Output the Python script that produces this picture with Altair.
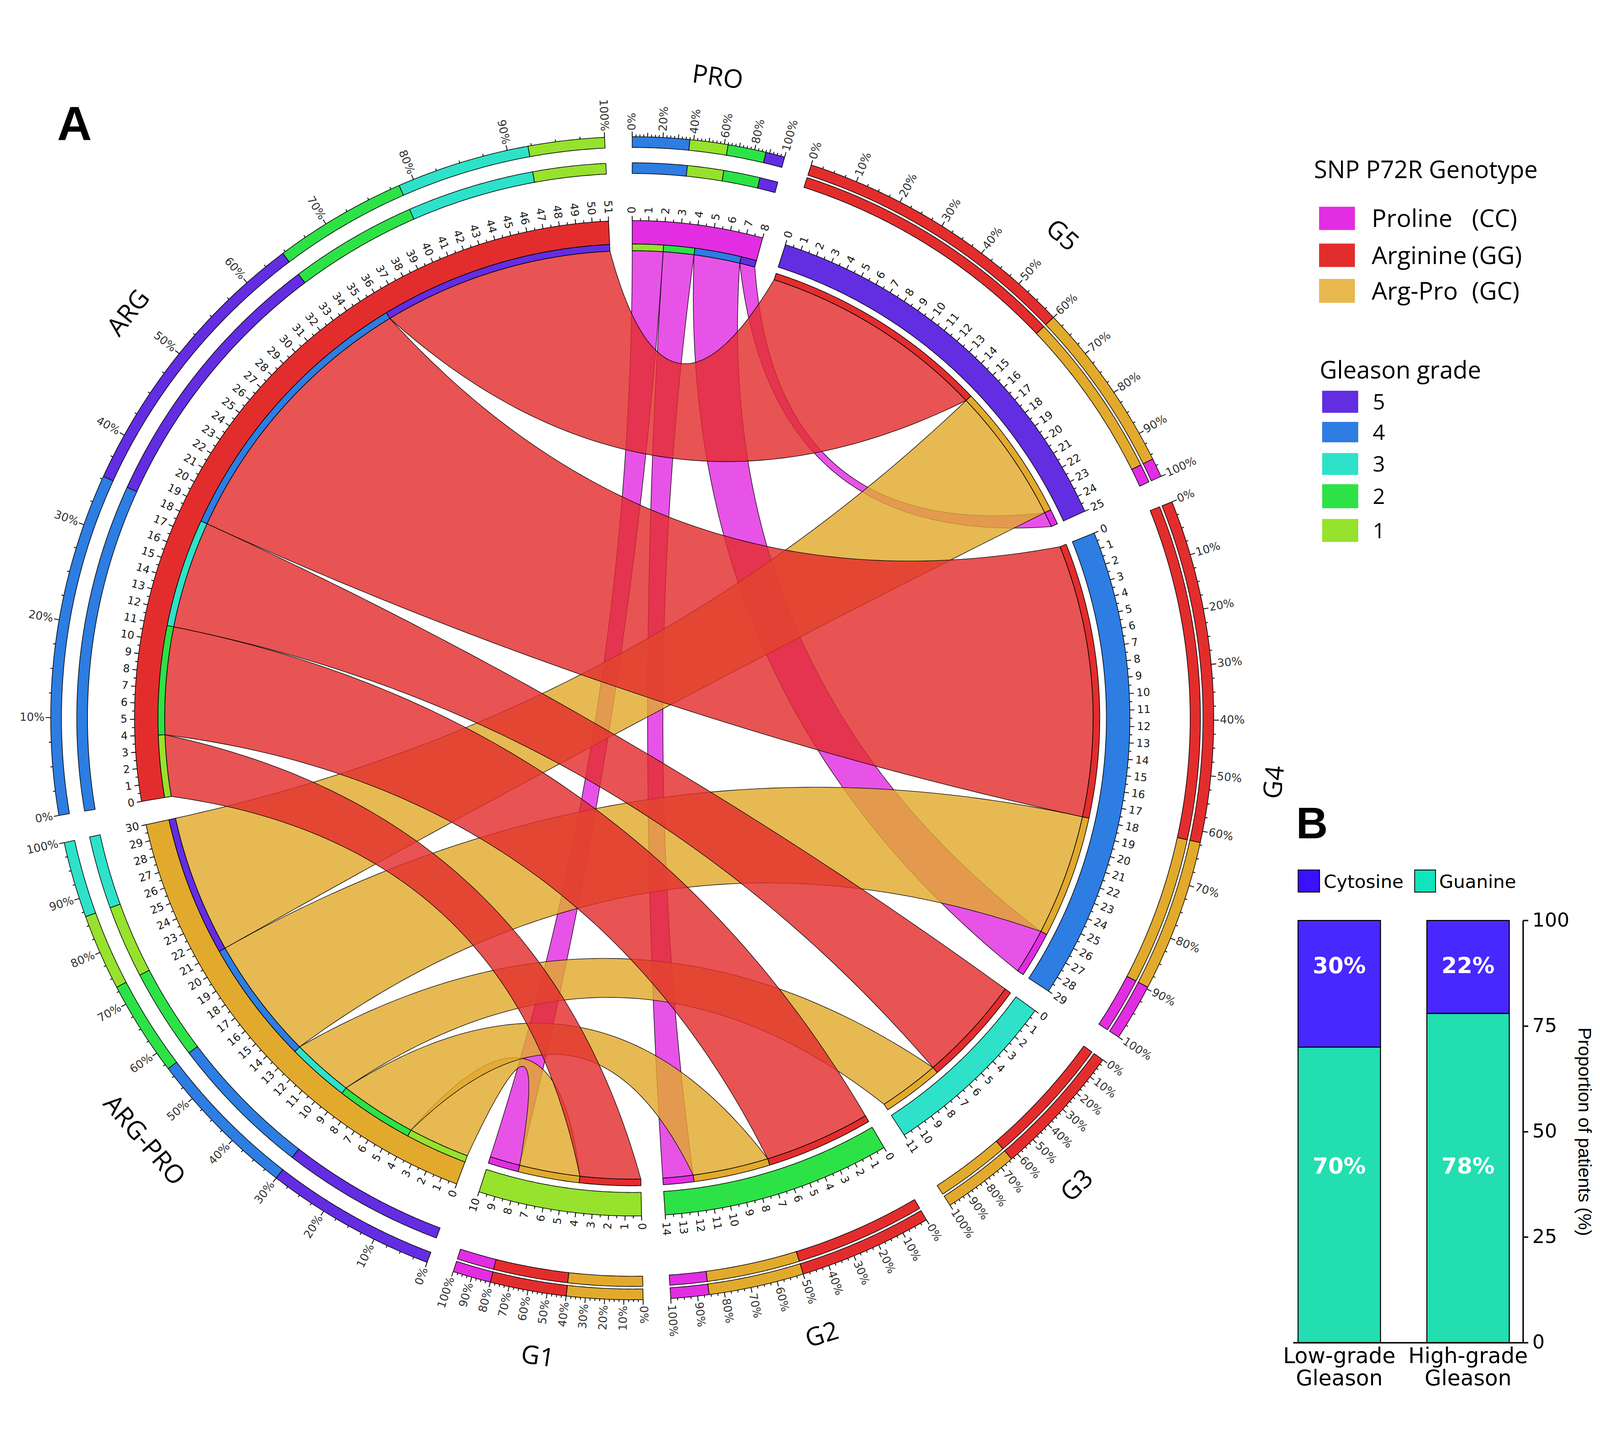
import math
import altair as alt
import pandas as pd

alt.data_transformers.disable_max_rows()

S = 4429 / 1568.0          # page pixels per reference-display pixel
OFF = 8.0 / S              # page margin expressed in display pixels

# ---------------- values ----------------
segment_order = ["PRO", "G5", "G4", "G3", "G2", "G1", "ARG-PRO", "ARG"]   # clockwise from top
genotypes = ["ARG", "ARG-PRO", "PRO"]
grades = ["G1", "G2", "G3", "G4", "G5"]
counts_arg = [4, 7, 7, 18, 15]      # Arginine patients in G1..G5
counts_argpro = [4, 5, 4, 8, 9]     # Arg-Pro patients in G1..G5
counts_pro = [2, 2, 0, 3, 1]        # Proline patients in G1..G5

segment_colors = ["#e22de2", "#632de2", "#2d7de2", "#2de2c8",
                  "#2de246", "#96e22d", "#e2aa2d", "#e32d2d"]

ring_order = {
    "PRO": ["G4", "G1", "G2", "G5"],
    "G5": ["ARG", "ARG-PRO", "PRO"],
    "G4": ["ARG", "ARG-PRO", "PRO"],
    "G3": ["ARG", "ARG-PRO"],
    "G2": ["ARG", "ARG-PRO", "PRO"],
    "G1": ["ARG-PRO", "ARG", "PRO"],
    "ARG-PRO": ["G5", "G4", "G2", "G1", "G3"],
    "ARG": ["G4", "G5", "G2", "G3", "G1"],
}

legend_genotype_names = ["Proline", "Arginine", "Arg-Pro"]
legend_genotype_codes = ["(CC)", "(GG)", "(GC)"]
legend_genotype_colors = ["#e22de2", "#e32d2d", "#e8b84f"]
legend_grade_names = ["5", "4", "3", "2", "1"]
legend_grade_colors = ["#632de2", "#2d7de2", "#2de2c8", "#2de246", "#96e22d"]

bar_groups = ["Low-grade Gleason", "High-grade Gleason"]
cytosine_pct = [30, 22]
guanine_pct = [70, 78]

# ---------------- layout constants (display px) ----------------
W_PAGE, H_PAGE = 4405.0, 3692.0
XMAX = OFF + W_PAGE / S
YMAX = OFF + H_PAGE / S


def px(v):
    return (v - OFF) * S


CX, CY = 618.4, 650.5
U = 1.9                 # degrees per patient
TH0 = 0.0
R_OUT, R_IN = 487.0, 464.0
R_LG, R_LK = 457.5, 451.0          # link radius genotype / grade
BEZ_OFF = 193.0
PR_OUT = (558.5, 569.0)
PR_IN_GENO = (533.0, 543.5)
PR_IN_GRADE = (546.0, 556.0)

cnt = {}
for g, arr in zip(genotypes, [counts_arg, counts_argpro, counts_pro]):
    for k, v in zip(grades, arr):
        cnt[(g, k)] = v
size = {g: sum(cnt[(g, k)] for k in grades) for g in genotypes}
size.update({k: sum(cnt[(g, k)] for g in genotypes) for k in grades})
total = sum(size[s] for s in segment_order)
GAP = (360.0 - total * U) / len(segment_order)
start = {}
a = TH0
for s in segment_order:
    start[s] = a
    a += size[s] * U + GAP
color = dict(zip(segment_order, segment_colors))


def ang(s, pos):
    return start[s] + pos * U


def pc(s, p):
    return cnt[(s, p)] if s in genotypes else cnt[(p, s)]


partner_order = {g: grades for g in genotypes}
partner_order.update({k: genotypes for k in grades})
offset = {}
for s in segment_order:
    c = 0
    for p in partner_order[s]:
        v = pc(s, p)
        offset[(s, p)] = (c, c + v)
        c += v


def P(theta, r):
    t = math.radians(theta)
    return (CX + r * math.sin(t), CY - r * math.cos(t))


def arc_pts(t0, t1, r, step=0.25):
    n = max(2, int(abs(t1 - t0) / step) + 1)
    return [P(t0 + (t1 - t0) * i / (n - 1), r) for i in range(n)]


def ring_poly(t0, t1, r_in, r_out):
    pts = arc_pts(t0, t1, r_out) + arc_pts(t1, t0, r_in)
    pts.append(pts[0])
    return pts


def bez(p0, p2, n=80):
    mx, my = (p0[0] + p2[0]) / 2, (p0[1] + p2[1]) / 2
    vx, vy = mx - CX, my - CY
    d = math.hypot(vx, vy)
    R = max(0.0, d - BEZ_OFF)
    if d > 1e-9:
        qx, qy = CX + vx / d * R, CY + vy / d * R
    else:
        qx, qy = CX, CY
    out = []
    for i in range(1, n):
        t = i / n
        out.append(((1 - t) ** 2 * p0[0] + 2 * (1 - t) * t * qx + t * t * p2[0],
                    (1 - t) ** 2 * p0[1] + 2 * (1 - t) * t * qy + t * t * p2[1]))
    return out


rows = {"chord_PRO": [], "chord_ARG-PRO": [], "chord_ARG": [], "ring": []}
pid = [0]


def add_poly(group, pts, fill):
    pid[0] += 1
    for i, (x, y) in enumerate(pts):
        rows[group].append({"pid": "p%d" % pid[0], "ord": i, "x": x, "y": y, "fill": fill})


for g in ["PRO", "ARG-PRO", "ARG"]:
    for k in grades:
        if cnt[(g, k)] == 0:
            continue
        a0, a1 = offset[(g, k)]
        b0, b1 = offset[(k, g)]
        A0, A1, B0, B1 = ang(g, a0), ang(g, a1), ang(k, b0), ang(k, b1)
        pts = arc_pts(A0, A1, R_LG) + bez(P(A1, R_LG), P(B0, R_LK)) \
            + arc_pts(B0, B1, R_LK) + bez(P(B1, R_LK), P(A0, R_LG))
        pts.append(pts[0])
        add_poly("chord_" + g, pts, color[g])

for s in segment_order:
    n = size[s]
    add_poly("ring", ring_poly(ang(s, 0), ang(s, n), R_IN, R_OUT), color[s])
    thin = (R_LG, R_IN) if s in genotypes else (R_LK, R_LG)
    for p in partner_order[s]:
        b0, b1 = offset[(s, p)]
        if b1 > b0:
            add_poly("ring", ring_poly(ang(s, b0), ang(s, b1), thin[0], thin[1]), color[p])
    inner = PR_IN_GENO if s in genotypes else PR_IN_GRADE
    c = 0
    for p in ring_order[s]:
        v = pc(s, p)
        for rr in (PR_OUT, inner):
            add_poly("ring", ring_poly(ang(s, c), ang(s, c + v), rr[0], rr[1]), color[p])
        c += v

tick_rows = []
lab_r, lab_l = [], []


def add_label(theta, r, text, fs, col):
    x, y = P(theta, r)
    th = theta % 360
    if th < 180:
        lab_r.append({"x": x, "y": y, "t": text, "ang": (th - 90) % 360, "fs": fs, "c": col})
    else:
        lab_l.append({"x": x, "y": y, "t": text, "ang": (th - 270) % 360, "fs": fs, "c": col})


for s in segment_order:
    n = size[s]
    for i in range(2 * n + 1):
        th = ang(s, i / 2)
        L = 4.5 if i % 2 == 0 else 2.5
        x1, y1 = P(th, R_OUT)
        x2, y2 = P(th, R_OUT + L)
        tick_rows.append({"x": x1, "y": y1, "x2": x2, "y2": y2})
        if i % 2 == 0:
            add_label(th, R_OUT + 7.0, str(i // 2), 10.5 * S, "#1a1a1a")
    lab_step = 8 if s == "PRO" else 4
    for j in range(41):
        th = ang(s, n * j / 40)
        if j % lab_step == 0:
            L = 5.0
        elif j % 4 == 0:
            L = 4.0
        else:
            L = 2.3
        x1, y1 = P(th, PR_OUT[1])
        x2, y2 = P(th, PR_OUT[1] + L)
        tick_rows.append({"x": x1, "y": y1, "x2": x2, "y2": y2})
        if j % lab_step == 0:
            add_label(th, PR_OUT[1] + 6.0, "%d%%" % (j * 10 // 4), 11.0 * S, "#333333")

name_rows = []
for s in segment_order:
    th = ang(s, size[s] / 2) % 360
    x, y = P(th, 632.0)
    rot = (th - 180) if 90 < th < 270 else th
    name_rows.append({"x": x, "y": y, "t": s, "ang": rot % 360})

# ---------------- panel A (chord diagram) + legends, in page coordinates ----------------
xs = alt.Scale(domain=[OFF, XMAX], nice=False, zero=False)
ys = alt.Scale(domain=[OFF, YMAX], nice=False, zero=False, reverse=True)
X = alt.X("x:Q", scale=xs, axis=None)
Y = alt.Y("y:Q", scale=ys, axis=None)


def poly_layer(group, opacity, sw):
    return alt.Chart(pd.DataFrame(rows[group])).mark_line(
        filled=True, stroke="black", strokeWidth=sw, strokeJoin="round",
        fillOpacity=opacity, strokeOpacity=0.9
    ).encode(x=X, y=Y, detail="pid:N", order="ord:Q",
             color=alt.Color("fill:N", scale=None))


layers = [poly_layer("chord_PRO", 0.82, 0.6 * S),
          poly_layer("chord_ARG-PRO", 0.82, 0.6 * S),
          poly_layer("chord_ARG", 0.82, 0.6 * S),
          poly_layer("ring", 1.0, 0.7 * S)]

layers.append(alt.Chart(pd.DataFrame(tick_rows)).mark_rule(
    color="black", strokeWidth=0.8 * S).encode(x=X, y=Y, x2="x2:Q", y2="y2:Q"))

for df, al in ((lab_r, "left"), (lab_l, "right")):
    layers.append(alt.Chart(pd.DataFrame(df)).mark_text(
        align=al, baseline="middle", font="DejaVu Sans").encode(
        x=X, y=Y, text="t:N", angle=alt.Angle("ang:Q", scale=None),
        size=alt.Size("fs:Q", scale=None), color=alt.Color("c:N", scale=None)))

layers.append(alt.Chart(pd.DataFrame(name_rows)).mark_text(
    align="center", baseline="middle", font="Open Sans", fontSize=25 * S, color="black").encode(
    x=X, y=Y, text="t:N", angle=alt.Angle("ang:Q", scale=None)))


def ptext(items, size, font="Open Sans", weight="normal"):
    return alt.Chart(pd.DataFrame(items)).mark_text(
        align="left", baseline="alphabetic", font=font, fontSize=size * S,
        fontWeight=weight, color="black").encode(x=X, y=Y, text="t:N")


layers.append(ptext([{"x": 55.7, "y": 85.0, "t": "A"}], 47, font="Liberation Sans", weight="bold"))

geno_sw = [(150.0, 172.8), (186.0, 209.0), (220.6, 244.0)]
grade_sw = [(330.0, 351.6), (360.5, 380.5), (391.0, 412.4), (421.5, 445.0), (455.5, 478.0)]
sw_rows = []
for (y0, y1), c in zip(geno_sw, legend_genotype_colors):
    sw_rows.append({"x": 1290.5, "x2": 1325.6, "y": y0, "y2": y1, "c": c})
for (y0, y1), c in zip(grade_sw, legend_grade_colors):
    sw_rows.append({"x": 1293.5, "x2": 1328.8, "y": y0, "y2": y1, "c": c})
layers.append(alt.Chart(pd.DataFrame(sw_rows)).mark_rect().encode(
    x=X, y=Y, x2="x2:Q", y2="y2:Q", color=alt.Color("c:N", scale=None)))

bl_rows = [{"x": 1270.0, "x2": 1291.0, "y": 799.0, "y2": 820.6, "c": "#3a10ff"},
           {"x": 1384.0, "x2": 1404.5, "y": 799.0, "y2": 820.6, "c": "#10e4bc"}]
layers.append(alt.Chart(pd.DataFrame(bl_rows)).mark_rect(stroke="black", strokeWidth=0.8 * S).encode(
    x=X, y=Y, x2="x2:Q", y2="y2:Q", color=alt.Color("c:N", scale=None)))

layers += [
    ptext([{"x": 1285.5, "y": 122.0, "t": "SNP P72R Genotype"},
           {"x": 1291.0, "y": 318.0, "t": "Gleason grade"}], 23.5),
    ptext([{"x": 1342.0, "y": (y0 + y1) / 2 + 8.5, "t": t}
           for (y0, y1), t in zip(geno_sw, legend_genotype_names)]
          + [{"x": 1440.0, "y": (y0 + y1) / 2 + 8.5, "t": t}
             for (y0, y1), t in zip(geno_sw, legend_genotype_codes)], 24),
    ptext([{"x": 1343.0, "y": (y0 + y1) / 2 + 7.5, "t": t}
           for (y0, y1), t in zip(grade_sw, legend_grade_names)], 21),
    ptext([{"x": 1268.0, "y": 768.0, "t": "B"}], 43, font="Liberation Sans", weight="bold"),
    ptext([{"x": 1295.0, "y": 816.5, "t": "Cytosine"},
           {"x": 1408.0, "y": 816.5, "t": "Guanine"}], 18, font="DejaVu Sans"),
]
panel_a = alt.layer(*layers)

# ---------------- panel B bar chart (own scales placed by pixel ranges) ----------------
bar_df = pd.DataFrame({
    "group": bar_groups * 2,
    "allele": ["Guanine"] * 2 + ["Cytosine"] * 2,
    "pct": guanine_pct + cytosine_pct,
    "so": [0, 0, 1, 1],
})
label_y = [89.0, 41.5]
bar_df["yy"] = [label_y[1]] * 2 + [label_y[0]] * 2
bar_df["t"] = ["%d%%" % v for v in guanine_pct + cytosine_pct]

PLOT_L, PLOT_R, PLOT_T, PLOT_B = 1265.0, 1490.0, 848.4, 1261.4
bbase = alt.Chart(bar_df).encode(
    x=alt.X("group:N", sort=bar_groups,
            scale=alt.Scale(range=[px(PLOT_L), px(PLOT_R)], paddingInner=0.36,
                            paddingOuter=0.0726, align=0.27),
            axis=alt.Axis(title=None, labelExpr="split(datum.label, ' ')", labelAngle=0,
                          ticks=False, domain=True, domainColor="black", domainWidth=1.4 * S,
                          labelFont="DejaVu Sans", labelFontSize=21 * S, labelColor="black",
                          labelPadding=3 * S, labelLineHeight=22 * S, labelLimit=0,
                          offset=px(PLOT_B) - H_PAGE)))
bars = bbase.mark_bar(stroke="black", strokeWidth=1.0 * S).encode(
    y=alt.Y("pct:Q", stack="zero",
            scale=alt.Scale(domain=[0, 100], nice=False, range=[px(PLOT_B), px(PLOT_T)]),
            axis=alt.Axis(orient="right", values=[0, 25, 50, 75, 100], grid=False,
                          title="Proportion of patients (%)", domainColor="black",
                          domainWidth=1.4 * S, tickColor="black", tickSize=5 * S,
                          tickWidth=1.4 * S, labelFont="DejaVu Sans", labelFontSize=19 * S,
                          labelColor="black", labelPadding=4 * S,
                          titleFont="Liberation Sans", titleFontSize=18 * S,
                          titleFontWeight="normal", titleColor="black", titlePadding=5 * S,
                          offset=px(PLOT_R) - W_PAGE)),
    color=alt.Color("allele:N", scale=alt.Scale(domain=["Cytosine", "Guanine"],
                                                range=["#4828ff", "#23deb0"]), legend=None),
    order=alt.Order("so:Q"),
)
bar_text = bbase.mark_text(color="white", font="DejaVu Sans", fontWeight="bold",
                           fontSize=21.7 * S, baseline="middle").encode(
    y=alt.Y("yy:Q"), text="t:N")
panel_b = alt.layer(bars, bar_text)

chart = alt.layer(panel_a, panel_b).resolve_scale(
    x="independent", y="independent", color="independent"
).properties(
    width=W_PAGE, height=H_PAGE, padding=0,
    autosize=alt.AutoSizeParams(type="none")
).configure_view(stroke=None)

chart.save("out.html", embed_options={"renderer": "svg", "actions": False})
